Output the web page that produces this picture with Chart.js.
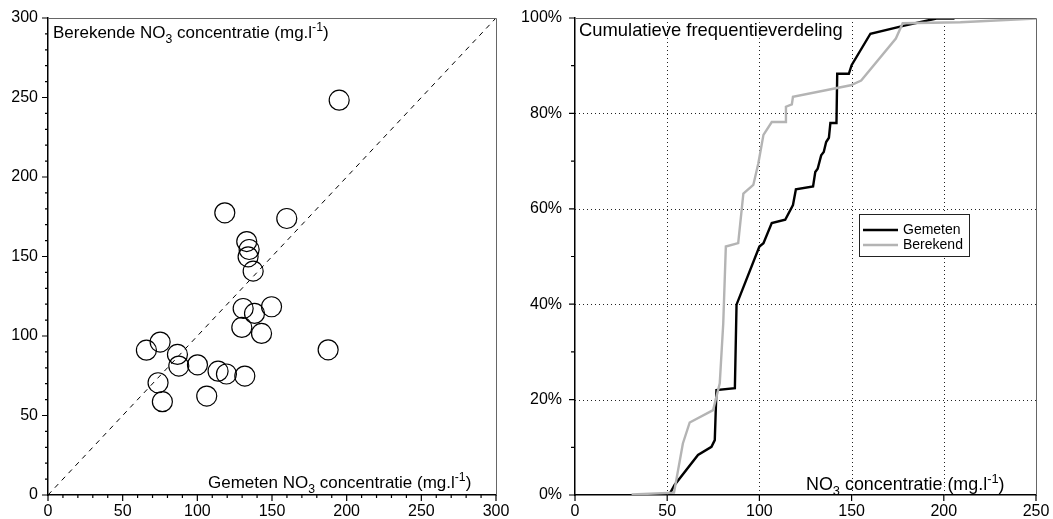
<!DOCTYPE html>
<html>
<head>
<meta charset="utf-8">
<script src="https://cdn.jsdelivr.net/npm/chart.js@4.4.1/dist/chart.umd.min.js"></script>
<style>
  html, body { margin: 0; padding: 0; background: #fff; }
  #wrap { position: relative; width: 1053px; height: 519px; overflow: hidden; }
  canvas { position: absolute; top: 0; }
</style>
</head>
<body>
<div id="wrap">
  <canvas id="cA" width="520" height="519" style="left:0px"></canvas>
  <canvas id="cB" width="533" height="519" style="left:520px"></canvas>
</div>
<script>
// ---------- DATA ----------
// Left panel: scatter of measured (gemeten) vs calculated (berekende) NO3
const scatterGemeten  = [195, 118.4, 159.9, 133.1, 134.7, 134.0, 137.4, 130.7, 149.7, 138.3, 129.8, 143.0, 187.6, 75.1, 65.9, 86.7, 87.6, 100.1, 113.9, 119.5, 131.8, 73.7, 76.6, 106.3];
const scatterBerekend = [248.3, 177.5, 173.9, 159.4, 154.4, 149.8, 140.8, 117.3, 118.4, 114.2, 105.4, 101.6, 91.3, 96.2, 91.1, 88.4, 81.1, 81.9, 77.9, 76.1, 74.8, 70.6, 58.7, 62.2];
const lineOneToOneX = [0, 300];
const lineOneToOneY = [0, 300];

// Right panel: cumulative frequency distributions
const cdfGemetenX = [51.5, 54, 66.7, 74, 75.8, 76.7, 86.7, 87.6, 100, 102.2, 106.7, 114, 118.2, 119.8, 129.1, 130.3, 131.6, 133.5, 134.9, 136.2, 137.7, 138.5, 141.8, 142.2, 148.5, 150, 160.2, 178.6, 196, 205.8];
const cdfGemetenY = [0.35, 2.1, 8.4, 10.1, 11.5, 22.0, 22.4, 39.9, 52.1, 52.8, 57.0, 57.7, 60.8, 64.1, 64.7, 67.7, 68.4, 71.2, 71.9, 74.0, 74.9, 78.0, 78.0, 88.3, 88.3, 90.1, 96.7, 98.4, 99.9, 99.9];
const cdfBerekendX = [30.7, 53.7, 58.5, 62.2, 74.9, 78.5, 80.4, 81.8, 88.5, 91.3, 96.7, 99.4, 102.2, 106.7, 114, 114.4, 117.6, 118.2, 149.5, 155.2, 174, 177.7, 209, 250];
const cdfBerekendY = [0.1, 0.5, 10.8, 15.2, 17.8, 23.4, 36, 52.1, 52.8, 63.2, 65, 69.5, 75.5, 78.2, 78.2, 81.4, 81.9, 83.5, 85.9, 86.9, 95.7, 98.9, 99.1, 99.9];

// Ticks
const leftXTicks = [0, 50, 100, 150, 200, 250, 300];
const leftYTicks = [0, 50, 100, 150, 200, 250, 300];
const rightXTicks = [0, 50, 100, 150, 200, 250];
const rightYTicks = [0, 20, 40, 60, 80, 100];
const rightGridX = [50, 100, 150, 200];
const rightGridY = [20, 40, 60, 80];

const seriesNames = ['Gemeten', 'Berekend'];

// ---------- HELPERS ----------
const FONT = '"Liberation Sans", Arial, Helvetica, sans-serif';
const zip = (xs, ys) => xs.map((x, i) => ({ x: x, y: ys[i] }));

function richText(ctx, x, y, parts, size) {
  let cx = x;
  parts.forEach(p => {
    const mode = p[1] || 0;
    const s = mode ? size * 0.72 : size;
    ctx.font = s + 'px ' + FONT;
    const dy = mode === 1 ? size * 0.28 : (mode === 2 ? -size * 0.40 : 0);
    ctx.fillText(p[0], cx, y + dy);
    cx += ctx.measureText(p[0]).width;
  });
}

function drawTickMarks(ctx, chart, axis, values, len) {
  const s = chart.scales[axis];
  const a = chart.chartArea;
  ctx.save();
  ctx.strokeStyle = '#000';
  ctx.lineWidth = 1.2;
  ctx.beginPath();
  values.forEach(v => {
    const p = s.getPixelForValue(v);
    if (axis === 'x') { ctx.moveTo(p, a.bottom); ctx.lineTo(p, a.bottom + len); }
    else { ctx.moveTo(a.left, p); ctx.lineTo(a.left - len, p); }
  });
  ctx.stroke();
  ctx.restore();
}

function frame(ctx, a, color) {
  ctx.save();
  ctx.strokeStyle = color;
  ctx.lineWidth = 1;
  ctx.beginPath();
  ctx.moveTo(a.left, Math.round(a.top) + 0.5);
  ctx.lineTo(Math.round(a.right) + 0.5, Math.round(a.top) + 0.5);
  ctx.lineTo(Math.round(a.right) + 0.5, a.bottom);
  ctx.stroke();
  ctx.restore();
}

function range(a, b, step) { const r = []; for (let v = a; v <= b + 1e-9; v += step) r.push(v); return r; }

// ---------- LEFT CHART ----------
const decoA = {
  id: 'decoA',
  afterDraw(chart) {
    const ctx = chart.ctx, a = chart.chartArea;
    frame(ctx, a, '#666');
    drawTickMarks(ctx, chart, 'y', leftYTicks, 6);
    drawTickMarks(ctx, chart, 'y', range(0, 300, 10).filter(v => v % 50 !== 0), 3);
    drawTickMarks(ctx, chart, 'x', leftXTicks, 6);
    drawTickMarks(ctx, chart, 'x', range(0, 300, 10).filter(v => v % 50 !== 0), 3);
    ctx.save();
    ctx.fillStyle = '#000';
    ctx.textBaseline = 'alphabetic';
    richText(ctx, 53, 38, [['Berekende NO'], ['3', 1], [' concentratie (mg.l'], ['-1', 2], [')']], 17);
    richText(ctx, 208, 488, [['Gemeten NO'], ['3', 1], [' concentratie (mg.l'], ['-1', 2], [')']], 17);
    ctx.restore();
  }
};

const axisCommon = (min, max, ticks, cb, fitProp, fitVal, pad) => ({
  type: 'linear', min: min, max: max,
  afterBuildTicks: s => { s.ticks = ticks.map(v => ({ value: v })); },
  ticks: { color: '#000', font: { family: FONT, size: 16 }, padding: pad, maxRotation: 0, autoSkip: false, callback: cb },
  grid: { display: false, drawTicks: false },
  border: { display: true, color: '#000', width: 1.5 },
  afterFit: s => {
    s[fitProp] = fitVal;
    s.paddingTop = 0; s.paddingBottom = 0; s.paddingLeft = 0; s.paddingRight = 0;
  }
});

new Chart(document.getElementById('cA'), {
  type: 'scatter',
  data: {
    datasets: [
      {
        label: '1:1',
        data: zip(lineOneToOneX, lineOneToOneY),
        showLine: true, borderColor: '#000', borderWidth: 1, borderDash: [5, 5],
        pointRadius: 0, fill: false
      },
      {
        label: 'punten',
        data: zip(scatterGemeten, scatterBerekend),
        showLine: false, pointRadius: 10, pointBorderWidth: 1.2,
        pointBorderColor: '#000', pointBackgroundColor: 'rgba(255,255,255,0)'
      }
    ]
  },
  options: {
    responsive: false, animation: false, devicePixelRatio: 1,
    layout: { autoPadding: false, padding: { top: 18, right: 24, left: 0, bottom: 0 } },
    plugins: { legend: { display: false }, tooltip: { enabled: false } },
    scales: {
      x: axisCommon(0, 300, leftXTicks, v => String(v), 'height', 24, 7),
      y: axisCommon(0, 300, leftYTicks, v => String(v), 'width', 48, 10)
    }
  },
  plugins: [decoA]
});

// ---------- RIGHT CHART ----------
const decoB = {
  id: 'decoB',
  beforeDatasetsDraw(chart) {
    const ctx = chart.ctx, a = chart.chartArea;
    const sx = chart.scales.x, sy = chart.scales.y;
    ctx.save();
    ctx.strokeStyle = '#222';
    ctx.lineWidth = 1;
    ctx.setLineDash([1, 3]);
    ctx.beginPath();
    rightGridX.forEach(v => { const p = Math.round(sx.getPixelForValue(v)) + 0.5; ctx.moveTo(p, a.top); ctx.lineTo(p, a.bottom); });
    rightGridY.forEach(v => { const p = Math.round(sy.getPixelForValue(v)) + 0.5; ctx.moveTo(a.left, p); ctx.lineTo(a.right, p); });
    ctx.stroke();
    ctx.restore();
  },
  afterDraw(chart) {
    const ctx = chart.ctx, a = chart.chartArea;
    frame(ctx, a, '#666');
    drawTickMarks(ctx, chart, 'y', rightYTicks, 6);
    drawTickMarks(ctx, chart, 'y', [10, 30, 50, 70, 90], 4);
    drawTickMarks(ctx, chart, 'x', rightXTicks, 6);
    ctx.save();
    ctx.fillStyle = '#000';
    ctx.textBaseline = 'alphabetic';
    richText(ctx, 579 - 520, 36, [['Cumulatieve frequentieverdeling']], 18.4);
    richText(ctx, 806 - 520, 490, [['NO'], ['3', 1], [' concentratie (mg.l'], ['-1', 2], [')']], 17.9);
    // legend box
    const lx = 859 - 520, ly = 214, lw = 110, lh = 42;
    ctx.fillStyle = '#fff';
    ctx.fillRect(lx, ly, lw, lh);
    ctx.strokeStyle = '#222';
    ctx.lineWidth = 1;
    ctx.strokeRect(lx + 0.5, ly + 0.5, lw, lh);
    chart.data.datasets.forEach((ds, i) => {
      const yy = ly + 16 + i * 15;
      ctx.strokeStyle = ds.borderColor;
      ctx.lineWidth = 2.5;
      ctx.beginPath();
      ctx.moveTo(lx + 4, yy); ctx.lineTo(lx + 39, yy);
      ctx.stroke();
      ctx.fillStyle = '#000';
      ctx.font = '14px ' + FONT;
      ctx.textBaseline = 'middle';
      ctx.fillText(ds.label, lx + 44, yy + 0.5);
    });
    ctx.restore();
  }
};

new Chart(document.getElementById('cB'), {
  type: 'scatter',
  data: {
    datasets: [
      {
        label: seriesNames[0], data: zip(cdfGemetenX, cdfGemetenY),
        showLine: true, borderColor: '#000', borderWidth: 2.4, pointRadius: 0, tension: 0, order: 1
      },
      {
        label: seriesNames[1], data: zip(cdfBerekendX, cdfBerekendY),
        showLine: true, borderColor: '#b4b4b4', borderWidth: 2.4, pointRadius: 0, tension: 0, order: 0
      }
    ]
  },
  options: {
    responsive: false, animation: false, devicePixelRatio: 1,
    layout: { autoPadding: false, padding: { top: 18, right: 17, left: 0, bottom: 0 } },
    plugins: { legend: { display: false }, tooltip: { enabled: false } },
    scales: {
      x: axisCommon(0, 250, rightXTicks, v => String(v), 'height', 24, 7),
      y: axisCommon(0, 100, rightYTicks, v => v + '%', 'width', 55, 13)
    }
  },
  plugins: [decoB]
});
</script>
</body>
</html>
